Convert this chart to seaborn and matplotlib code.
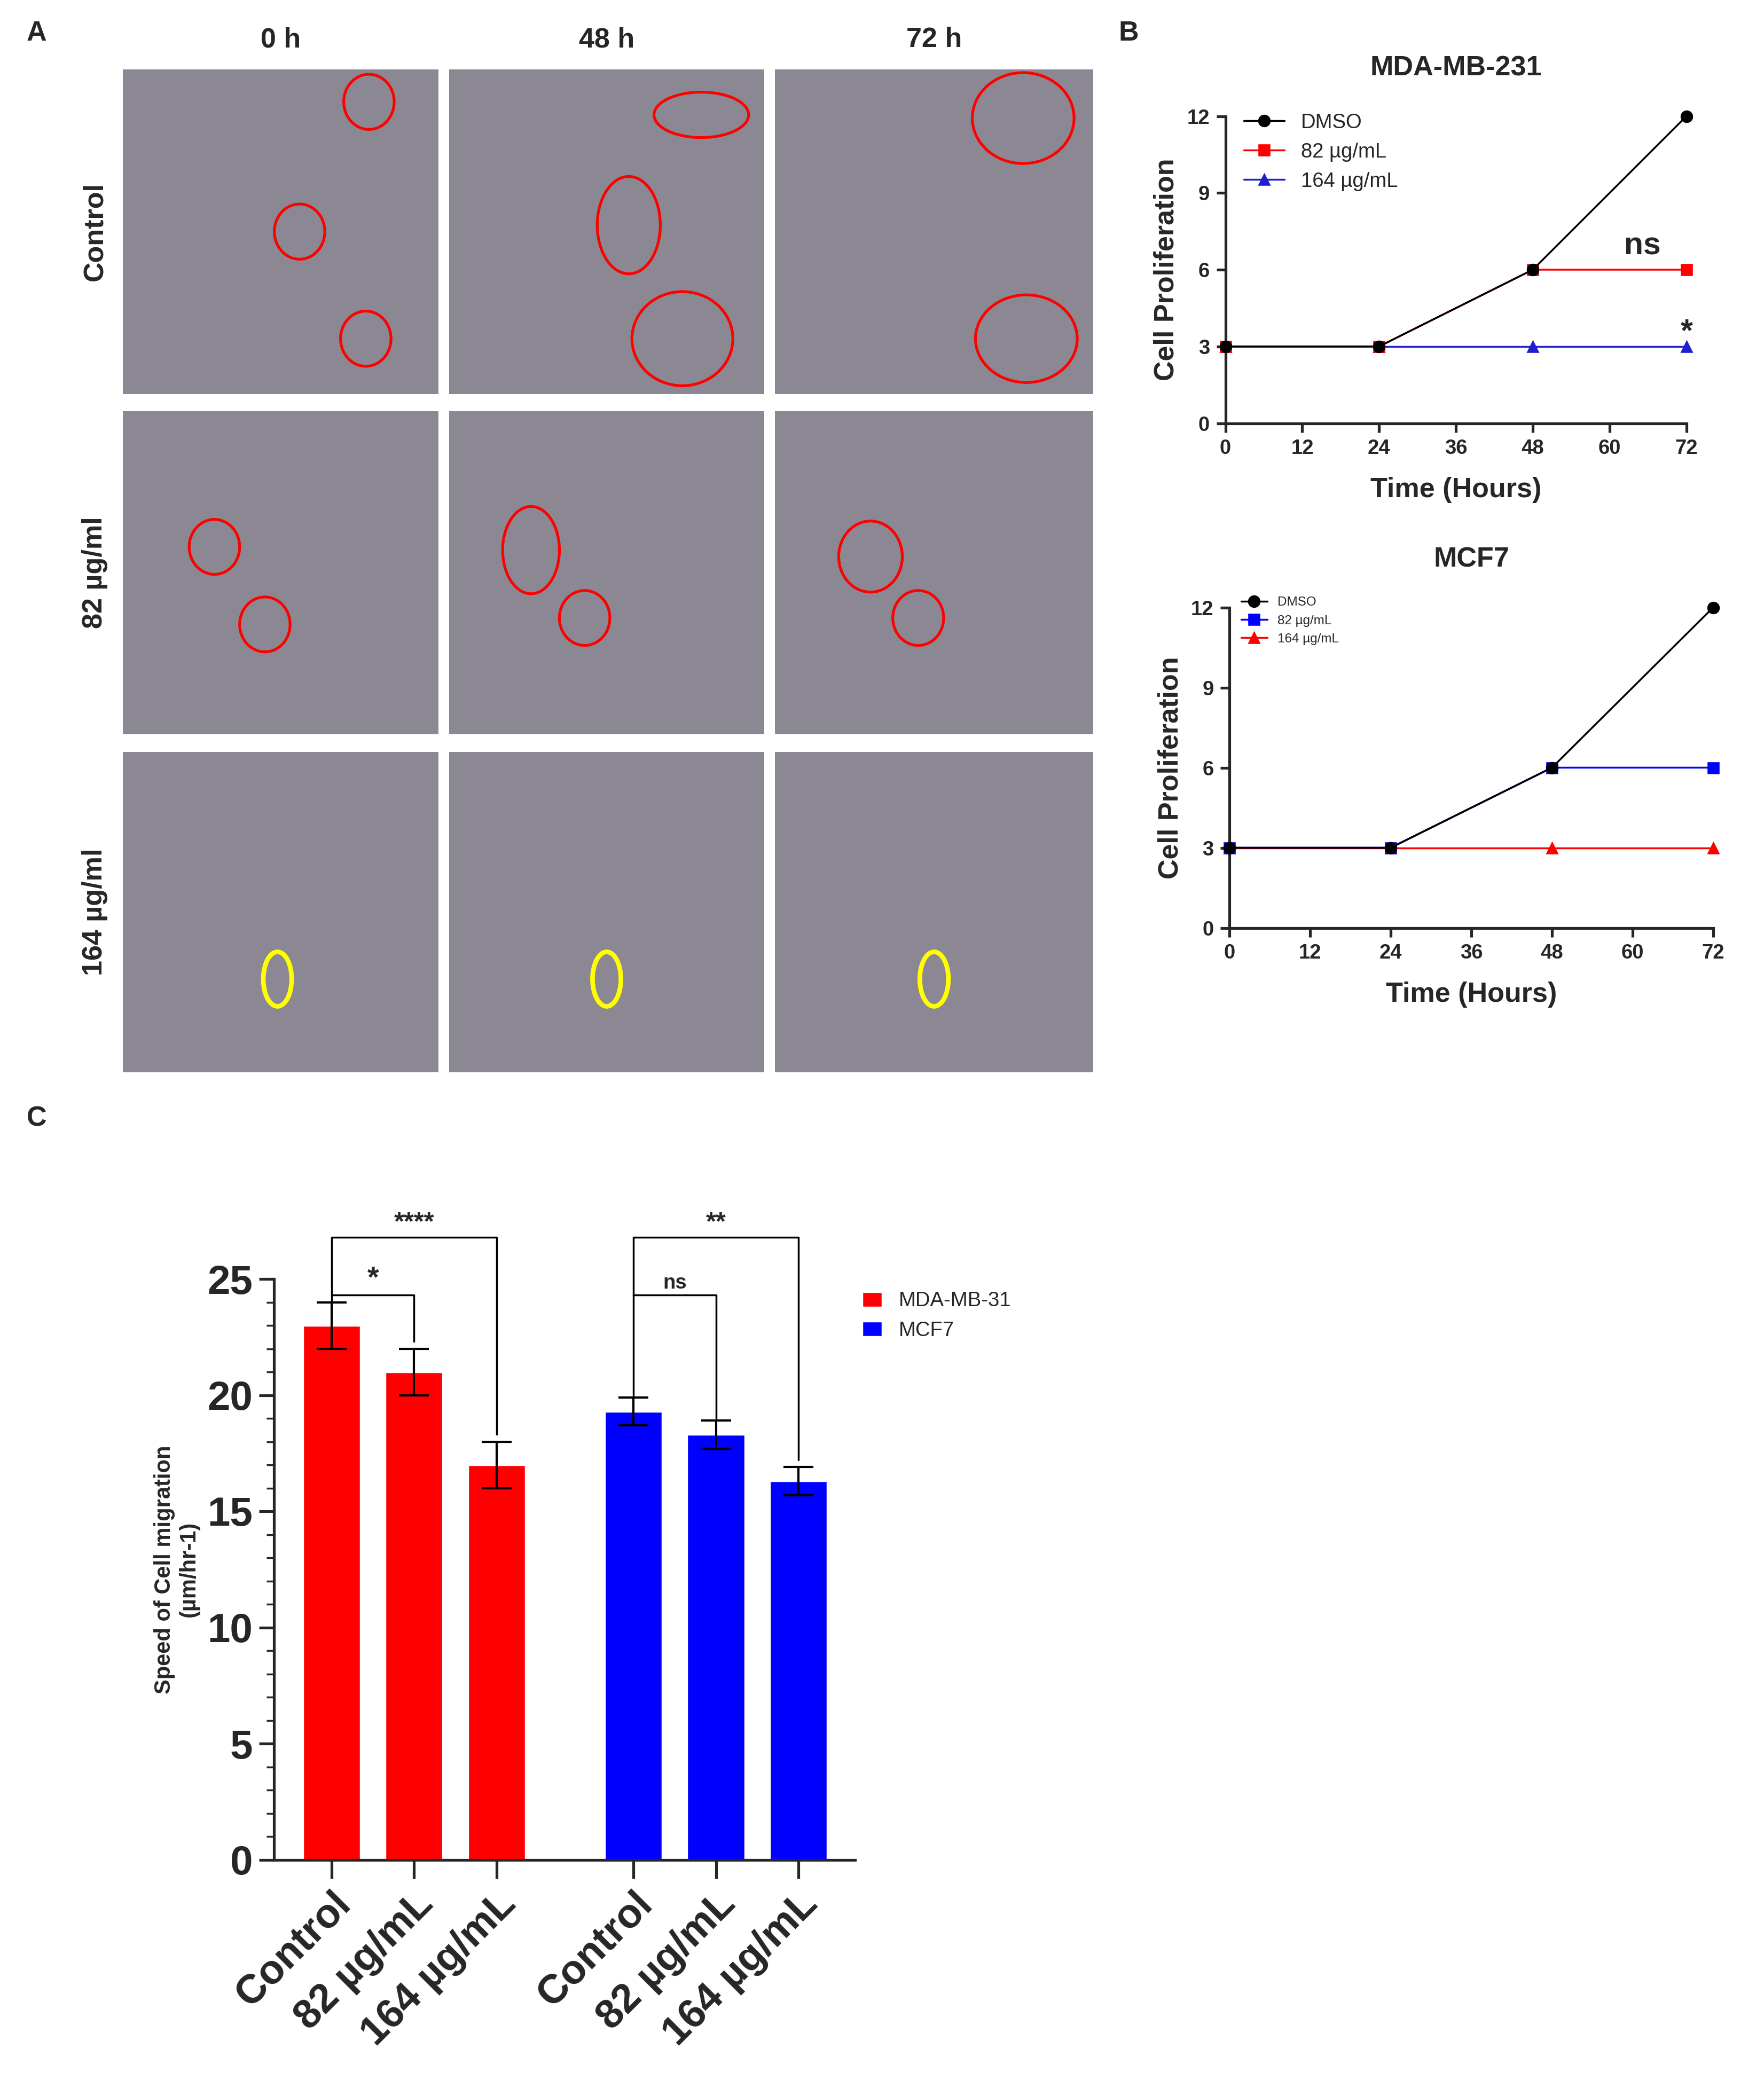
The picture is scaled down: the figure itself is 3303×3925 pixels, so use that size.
import numpy as np
import pandas as pd
import matplotlib
matplotlib.use("Agg")
import matplotlib.pyplot as plt
from matplotlib.patches import Ellipse
import seaborn as sns

sns.set_style("ticks")
plt.rcParams['font.family'] = ['Liberation Sans', 'DejaVu Sans']

# ---- data ----
time_h = [0, 24, 48, 72]
mda_dmso = [3, 3, 6, 12]
mda_82 = [3, 3, 6, 6]
mda_164 = [3, 3, 3, 3]
mcf_dmso = [3, 3, 6, 12]
mcf_82 = [3, 3, 6, 6]
mcf_164 = [3, 3, 3, 3]

groups = ["Control", "82 µg/mL", "164 µg/mL"]
mda_speed = [23.0, 21.0, 17.0]
mda_err = [1.0, 1.0, 1.0]
mcf_speed = [19.3, 18.3, 16.3]
mcf_err = [0.6, 0.6, 0.6]

col_labels = ["0 h", "48 h", "72 h"]
row_labels = ["Control", "82 µg/ml", "164 µg/ml"]

W, H = 1320.0, 1570.0
fig = plt.figure(figsize=(3303/250, 3925/250), dpi=250)

def ax_at(x0, y0, x1, y1):
    return fig.add_axes([x0/W, 1-y1/H, (x1-x0)/W, (y1-y0)/H])

# ---- Panel A ----
xs = [(92, 328), (336, 572), (580, 818)]
ys = [(52, 295), (308, 550), (563, 803)]
circles = {
    (0, 0): [(0.78, 0.9, 0.16, 0.17), (0.56, 0.5, 0.16, 0.17), (0.77, 0.17, 0.16, 0.17)],
    (0, 1): [(0.8, 0.86, 0.3, 0.14), (0.57, 0.52, 0.2, 0.3), (0.74, 0.17, 0.32, 0.29)],
    (0, 2): [(0.78, 0.85, 0.32, 0.28), (0.79, 0.17, 0.32, 0.27)],
    (1, 0): [(0.29, 0.58, 0.16, 0.17), (0.45, 0.34, 0.16, 0.17)],
    (1, 1): [(0.26, 0.57, 0.18, 0.27), (0.43, 0.36, 0.16, 0.17)],
    (1, 2): [(0.3, 0.55, 0.2, 0.22), (0.45, 0.36, 0.16, 0.17)],
}
for r, (y0, y1) in enumerate(ys):
    for c, (x0, x1) in enumerate(xs):
        a = ax_at(x0, y0, x1, y1)
        a.set_facecolor("#8c8893")
        a.set_xticks([]); a.set_yticks([])
        for s in a.spines.values():
            s.set_visible(False)
        for (cx, cy, w, h) in circles.get((r, c), []):
            a.add_patch(Ellipse((cx, cy), w, h, fill=False, ec="red", lw=1.5))
        if r == 2:
            cx = [0.49, 0.5, 0.5][c]
            a.add_patch(Ellipse((cx, 0.29), 0.09, 0.17, fill=False, ec="yellow", lw=2.5))
        if r == 0:
            a.set_title(col_labels[c], fontsize=15, fontweight="bold", pad=12)
        if c == 0:
            a.set_ylabel(row_labels[r], fontsize=15, fontweight="bold", labelpad=8)

fig.text(20/W, 1-25/H, "A", fontsize=15, fontweight="bold", va="center")
fig.text(837/W, 1-25/H, "B", fontsize=15, fontweight="bold", va="center")
fig.text(20/W, 1-838/H, "C", fontsize=15, fontweight="bold", va="center")

# ---- Panel B ----
def line_panel(ax, series, title, legend_fs):
    for z, (vals, lab, col, mk) in enumerate(series):
        df = pd.DataFrame({"t": time_h, "v": vals})
        sns.lineplot(data=df, x="t", y="v", ax=ax, color=col, marker=mk,
                     markersize=6, lw=1, label=lab, markeredgecolor=col,
                     zorder=5 - z)
    ax.set_xlim(0, 72); ax.set_ylim(0, 12)
    ax.set_xticks(range(0, 73, 12)); ax.set_yticks(range(0, 13, 3))
    ax.set_xlabel("Time (Hours)", fontsize=15, fontweight="bold", labelpad=10)
    ax.set_ylabel("Cell Proliferation", fontsize=15, fontweight="bold")
    ax.set_title(title, fontsize=15, fontweight="bold", pad=22)
    ax.tick_params(labelsize=11, width=1.5, length=5)
    for t in ax.get_xticklabels() + ax.get_yticklabels():
        t.set_fontweight("bold")
    for s in ["top", "right"]:
        ax.spines[s].set_visible(False)
    for s in ["left", "bottom"]:
        ax.spines[s].set_linewidth(1.5)
    ax.legend(loc="upper left", frameon=False, fontsize=legend_fs, bbox_to_anchor=(0.0, 1.07))
    ax.margins(0)
    for l in ax.lines:
        l.set_clip_on(False)

axb1 = ax_at(917, 87, 1262, 317)
line_panel(axb1, [(mda_dmso, "DMSO", "black", "o"), (mda_82, "82 µg/mL", "red", "s"),
                  (mda_164, "164 µg/mL", "#1f1fd0", "^")], "MDA-MB-231", 11)
axb1.text(68, 6.6, "ns", fontsize=17, fontweight="bold", ha="right")
axb1.text(72, 3.2, "*", fontsize=17, fontweight="bold", ha="center")

axb2 = ax_at(920, 455, 1282, 695)
line_panel(axb2, [(mcf_dmso, "DMSO", "black", "o"), (mcf_82, "82 µg/mL", "blue", "s"),
                  (mcf_164, "164 µg/mL", "red", "^")], "MCF7", 7)

# ---- Panel C ----
axc = ax_at(205, 958, 640, 1393)
xpos = [0, 1, 2, 3.66, 4.66, 5.66]
df = pd.DataFrame({
    "x": xpos,
    "val": mda_speed + mcf_speed,
    "line": ["MDA-MB-31"] * 3 + ["MCF7"] * 3,
})
sns.barplot(data=df, x="x", y="val", hue="line", native_scale=True,
            palette={"MDA-MB-31": "#ff0000", "MCF7": "#0000ff"},
            dodge=False, width=0.7, ax=axc, saturation=1)
errs = mda_err + mcf_err
for xv, v, e in zip(xpos, df["val"], errs):
    axc.errorbar(xv, v, yerr=e, color="black", capsize=8, lw=1.2, capthick=1.2)
axc.set_xticks(xpos)
axc.set_xticklabels(groups * 2, rotation=45, ha="right", rotation_mode="anchor",
                    fontsize=22, fontweight="bold")
axc.set_ylim(0, 25)
axc.set_yticks(range(0, 26, 5))
axc.set_yticks(np.arange(0, 25.1, 1), minor=True)
axc.tick_params(axis="y", labelsize=22, width=1.5, length=8)
axc.tick_params(axis="y", which="minor", length=4, width=1)
axc.tick_params(axis="x", width=1.5, length=10)
for t in axc.get_yticklabels():
    t.set_fontweight("bold")
axc.set_xlabel("")
axc.set_ylabel("Speed of Cell migration\n(µm/hr-1)", fontsize=12, fontweight="bold")
axc.set_xlim(-0.7, 6.35)
for s in ["top", "right"]:
    axc.spines[s].set_visible(False)
for s in ["left", "bottom"]:
    axc.spines[s].set_linewidth(1.5)
axc.legend(loc="upper left", bbox_to_anchor=(0.98, 1.01), frameon=False, fontsize=11,
           handlelength=1.0, handleheight=0.8)

def bracket(x1, x2, y1, y2, ytop, txt, fs):
    axc.plot([x1, x1, x2, x2], [y1, ytop, ytop, y2], color="black", lw=1, clip_on=False)
    axc.text((x1+x2)/2, ytop + 0.1, txt, ha="center", va="bottom", fontsize=fs, fontweight="bold")

bracket(0, 1, 23.2, 22.3, 24.3, "*", 16)
bracket(0, 2, 24.3, 18.3, 26.8, "****", 14)
bracket(3.66, 4.66, 20.0, 19.0, 24.3, "ns", 11)
bracket(3.66, 5.66, 24.3, 17.2, 26.8, "**", 14)

fig.savefig("out.png", dpi=250)
